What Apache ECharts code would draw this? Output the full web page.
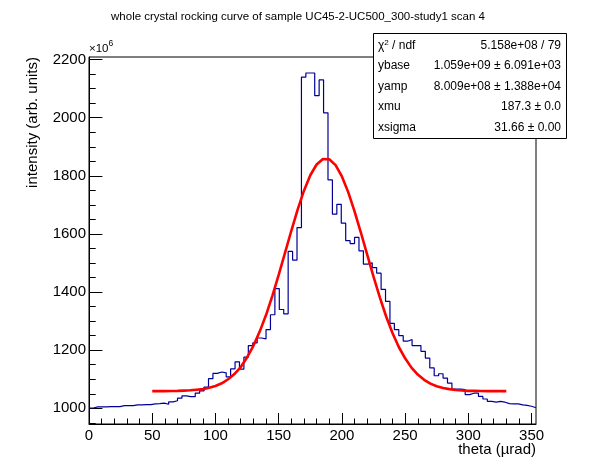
<!DOCTYPE html>
<html>
<head>
<meta charset="utf-8">
<script src="https://cdn.jsdelivr.net/npm/echarts@6/dist/echarts.min.js"></script>
<style>
html,body{margin:0;padding:0;background:#ffffff;}
#c{width:596px;height:472px;}
</style>
</head>
<body>
<div id="c"></div>
<script>
// ---------------- data ----------------
const titleText = 'whole crystal rocking curve of sample UC45-2-UC500_300-study1 scan 4';
const xTitle = 'theta (\u00b5rad)';
const yTitle = 'intensity (arb. units)';
const yExponent = '6';

// histogram binning (theta, µrad)
const binWidth = 3.5;
const xStart = 0;
const xRange = [0, 353.5];
const yRange = [946, 2209];          // in units of 10^6

// bin contents (units of 10^6), one per bin, left to right
const histValues = [
  1001, 1005, 1005, 1005, 1006, 1006, 1006, 1009, 1009, 1009,
  1012, 1012, 1013, 1013, 1015, 1016, 1018, 1014, 1022, 1026,
  1035, 1043, 1040, 1040, 1052, 1060, 1073, 1102, 1120, 1125,
  1122, 1108, 1136, 1160, 1135, 1176, 1216, 1225, 1242, 1239,
  1271, 1322, 1412, 1340, 1325, 1540, 1510, 1622, 2140, 2154,
  2154, 2076, 2130, 2017, 1786, 1668, 1702, 1637, 1577, 1567,
  1588, 1542, 1496, 1501, 1484, 1465, 1409, 1368, 1292, 1271,
  1250, 1231, 1237, 1216, 1216, 1196, 1173, 1139, 1112, 1119,
  1104, 1087, 1066, 1066, 1064, 1047, 1052, 1052, 1041, 1032,
  1024, 1021, 1024, 1021, 1016, 1015, 1015, 1012, 1010, 1007,
  1002
];

// fitted curve
const fitTheta = [
   50,  55,  60,  65,  70,  75,  80,  85,  90,  95,
  100, 105, 110, 115, 120, 125, 130, 135, 140, 145,
  150, 155, 160, 165, 170, 175, 180, 185, 190, 195,
  200, 205, 210, 215, 220, 225, 230, 235, 240, 245,
  250, 255, 260, 265, 270, 275, 280, 285, 290, 295,
  300, 305, 310, 315, 320, 325, 330
];
const fitValues = [
  1059, 1059, 1059, 1059.5, 1060, 1061, 1062, 1064, 1066, 1071,
  1077, 1086, 1100, 1118, 1142, 1175, 1215, 1264, 1321, 1387,
  1459, 1535, 1611, 1684, 1749, 1802, 1839, 1858, 1857, 1837,
  1798, 1744, 1678, 1605, 1529, 1453, 1382, 1316, 1259, 1211,
  1172, 1140, 1116, 1098, 1085, 1076, 1070, 1066, 1063, 1061.5,
  1060, 1060, 1059.5, 1059, 1059, 1059, 1059
];

// tick labels
const xMajorTicks = [0, 50, 100, 150, 200, 250, 300, 350];
const yMajorTicks = [1000, 1200, 1400, 1600, 1800, 2000, 2200];
const xMinorStep = 10;
const yMinorStep = 50;

// fit statistics box
const statLabels = ['{n|\u03c7}{s|2}{n| / ndf}', 'ybase', 'yamp', 'xmu', 'xsigma'];
const statValues = ['5.158e+08 / 79', '1.059e+09 \u00b1 6.091e+03', '8.009e+08 \u00b1 1.388e+04', '187.3 \u00b1 0.0', '31.66 \u00b1 0.00'];

// ---------------- build ----------------
const FONT = '"Liberation Sans", Arial, Helvetica, sans-serif';
const histData = histValues.map((v, i) => [xStart + i * binWidth, v]);
histData.push([xStart + histValues.length * binWidth, histValues[histValues.length - 1]]);
const fitData = fitTheta.map((t, i) => [t, fitValues[i]]);

function minorTicks(range, step, majors) {
  const out = [];
  const start = Math.ceil(range[0] / step) * step;
  for (let v = start; v <= range[1] + 1e-9; v += step) {
    if (majors.indexOf(v) < 0 && v > range[0] && v < range[1]) out.push(v);
  }
  return out;
}
const xMinor = minorTicks(xRange, xMinorStep, xMajorTicks);
const yMinor = minorTicks(yRange, yMinorStep, yMajorTicks);
const plain = v => String(v);

const G = {left: 89, top: 57, width: 447, height: 367};

const chart = echarts.init(document.getElementById('c'), null, {width: 596, height: 472});

const graphics = [
  {type: 'text', left: 'center', top: 11, z: 50,
   style: {text: titleText, font: '11.5px ' + FONT, fill: '#000'}},
  {type: 'text', x: 89, y: 49, z: 50,
   style: {text: '\u00d710', font: '11.5px ' + FONT, fill: '#000', verticalAlign: 'middle', align: 'left'}},
  {type: 'text', x: 108.5, y: 44, z: 50,
   style: {text: yExponent, font: '8.5px ' + FONT, fill: '#000', verticalAlign: 'middle', align: 'left'}},
  {type: 'text', x: 33, y: 57, rotation: Math.PI / 2, z: 50,
   style: {text: yTitle, font: '15px ' + FONT, fill: '#000', align: 'right', verticalAlign: 'middle'}},
  {type: 'text', x: 536, y: 450, z: 50,
   style: {text: xTitle, font: '15px ' + FONT, fill: '#000', align: 'right', verticalAlign: 'middle'}},
  {type: 'rect', z: 100, shape: {x: 373.5, y: 33.5, width: 193, height: 105},
   style: {fill: '#fff', stroke: '#000', lineWidth: 1}}
];
statLabels.forEach((lab, i) => {
  const yy = 45.5 + 20.5 * i;
  graphics.push({type: 'text', z: 101, x: 378, y: yy,
    style: {text: lab, font: '12px ' + FONT, fill: '#000', align: 'left', verticalAlign: 'middle',
      rich: {n: {fontSize: 12, fontFamily: FONT, lineHeight: 14, fill: '#000'},
             s: {fontSize: 8, fontFamily: FONT, lineHeight: 8, verticalAlign: 'top', fill: '#000'}}}});
  graphics.push({type: 'text', z: 101, x: 561, y: yy,
    style: {text: statValues[i], font: '12px ' + FONT, fill: '#000', align: 'right', verticalAlign: 'middle'}});
});

const hidden = {show: false};
const option = {
  animation: false,
  backgroundColor: '#ffffff',
  grid: {left: G.left, top: G.top, width: G.width, height: G.height, show: true,
         borderColor: '#000', borderWidth: 1, backgroundColor: 'transparent', containLabel: false},
  xAxis: [
    {type: 'value', min: xRange[0], max: xRange[1], position: 'bottom',
     axisLine: {show: true, onZero: false, lineStyle: {color: '#000', width: 1}},
     axisTick: {show: true, inside: true, length: 11, customValues: xMajorTicks, lineStyle: {color: '#000', width: 1}},
     axisLabel: {show: true, customValues: xMajorTicks, formatter: plain, margin: 4, color: '#000', fontSize: 15, fontFamily: FONT},
     splitLine: hidden, minorTick: hidden},
    {type: 'value', min: xRange[0], max: xRange[1], position: 'bottom',
     axisLine: {show: false, onZero: false},
     axisTick: {show: true, inside: true, length: 5.5, customValues: xMinor, lineStyle: {color: '#000', width: 1}},
     axisLabel: hidden, splitLine: hidden}
  ],
  yAxis: [
    {type: 'value', min: yRange[0], max: yRange[1], position: 'left',
     axisLine: {show: true, onZero: false, lineStyle: {color: '#000', width: 1}},
     axisTick: {show: true, inside: true, length: 13.4, customValues: yMajorTicks, lineStyle: {color: '#000', width: 1}},
     axisLabel: {show: true, customValues: yMajorTicks, formatter: plain, margin: 3, color: '#000', fontSize: 15, fontFamily: FONT},
     splitLine: hidden, minorTick: hidden},
    {type: 'value', min: yRange[0], max: yRange[1], position: 'left',
     axisLine: {show: false, onZero: false},
     axisTick: {show: true, inside: true, length: 6.7, customValues: yMinor, lineStyle: {color: '#000', width: 1}},
     axisLabel: hidden, splitLine: hidden}
  ],
  series: [
    {type: 'line', name: 'histogram', data: histData, step: 'end', showSymbol: false, symbol: 'none',
     xAxisIndex: 0, yAxisIndex: 0, lineStyle: {color: '#000099', width: 1.2}, z: 3, silent: true},
    {type: 'line', name: 'fit', data: fitData, showSymbol: false, symbol: 'none', smooth: false,
     xAxisIndex: 0, yAxisIndex: 0, lineStyle: {color: '#ff0000', width: 2.6}, z: 4, silent: true}
  ],
  graphic: graphics
};
chart.setOption(option);
</script>
</body>
</html>
